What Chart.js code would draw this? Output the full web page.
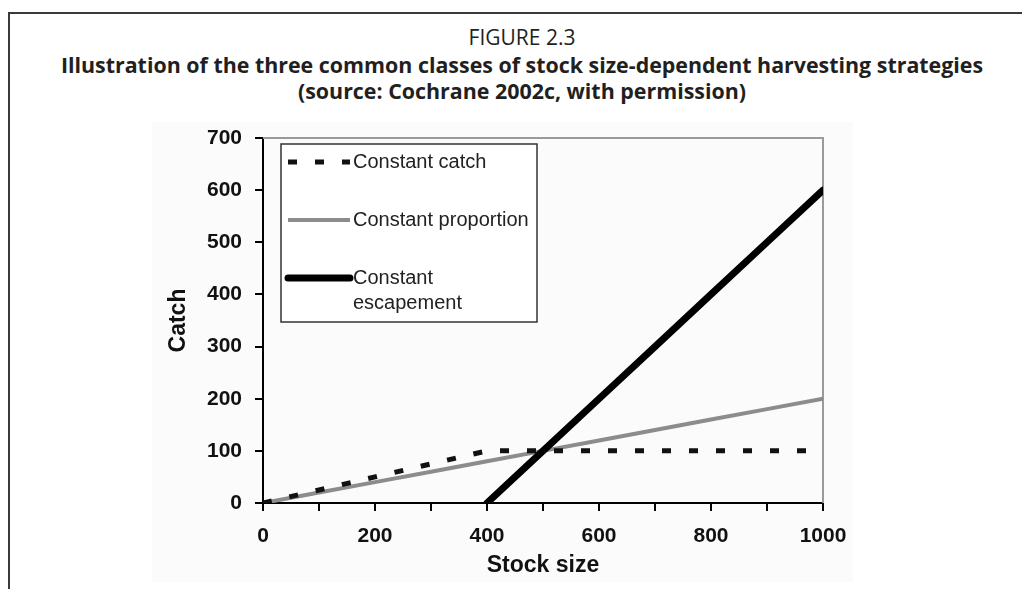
<!DOCTYPE html>
<html>
<head>
<meta charset="utf-8">
<script src="https://cdn.jsdelivr.net/npm/chart.js@4.4.1/dist/chart.umd.min.js"></script>
<style>
  html, body { margin: 0; padding: 0; width: 1022px; height: 589px; overflow: hidden; background: #fff; }
  #frame { position: absolute; left: 8px; top: 12px; width: 1100px; height: 700px;
           border-left: 2px solid #3a3a3a; border-top: 2px solid #3a3a3a; }
  #caption { position: absolute; left: 9px; top: 22px; width: 1026px; text-align: center;
             font-family: "Open Sans", sans-serif; color: #231f20; }
  #caption .fig { font-size: 21px; line-height: 30px; }
  #caption .ttl { font-size: 21.4px; font-weight: bold; line-height: 26px; }
  #paste { position: absolute; left: 152px; top: 122px; width: 701px; height: 460px; background: #fbfbfb; }
  #chart { position: absolute; left: 0; top: 0; }
</style>
</head>
<body>
<div id="frame"></div>
<div id="paste"></div>
<div id="caption">
  <div class="fig">FIGURE 2.3</div>
  <div class="ttl">Illustration of the three common classes of stock size-dependent harvesting strategies<br>(source: Cochrane 2002c, with permission)</div>
</div>
<canvas id="chart" width="1022" height="589"></canvas>
<script>
// values
const stockSize = [0, 100, 200, 300, 400, 500, 600, 700, 800, 900, 1000];
const constantCatch = [0, 25, 50, 75, 100, 100, 100, 100, 100, 100, 100];
const constantProportion = [0, 20, 40, 60, 80, 100, 120, 140, 160, 180, 200];
const constantEscapement = [null, null, null, null, 0, 100, 200, 300, 400, 500, 600];
const seriesNames = ["Constant catch", "Constant proportion", "Constant\nescapement"];
const xTicks = [0, 100, 200, 300, 400, 500, 600, 700, 800, 900, 1000];
const xTickLabels = [0, 200, 400, 600, 800, 1000];
const yTicks = [0, 100, 200, 300, 400, 500, 600, 700];

const toPoints = arr => stockSize.map((x, i) => ({ x: x, y: arr[i] }));
const tickFont = { family: "'Liberation Sans', Arial, sans-serif", weight: "bold", size: 21 };
const titleFont = { family: "'Liberation Sans', Arial, sans-serif", weight: "bold", size: 23 };

// gray top/right edges of the plot area
const plotFrame = {
  id: "plotFrame",
  beforeDatasetsDraw(chart) {
    const { ctx, chartArea: a } = chart;
    ctx.save();
    ctx.strokeStyle = "#9a9a9a";
    ctx.lineWidth = 2;
    ctx.beginPath();
    ctx.moveTo(a.left, a.top);
    ctx.lineTo(a.right, a.top);
    ctx.lineTo(a.right, a.bottom);
    ctx.stroke();
    ctx.restore();
  }
};

// boxed legend inside the plot, top left
const boxLegend = {
  id: "boxLegend",
  afterDatasetsDraw(chart) {
    const { ctx, chartArea: a } = chart;
    const left = a.left + 18, top = a.top + 6;
    ctx.save();
    ctx.fillStyle = "#fff";
    ctx.fillRect(left, top, 256, 178);
    ctx.strokeStyle = "#333";
    ctx.lineWidth = 1.5;
    ctx.strokeRect(left, top, 256, 178);
    ctx.font = "20px 'Liberation Sans', Arial, sans-serif";
    ctx.textBaseline = "middle";
    chart.data.datasets.forEach((ds, i) => {
      const y = top + 18 + i * 58;
      ctx.strokeStyle = ds.borderColor;
      ctx.lineWidth = ds.borderWidth;
      ctx.setLineDash(ds.borderDash || []);
      ctx.lineCap = ds.borderCapStyle || "butt";
      ctx.beginPath();
      ctx.moveTo(left + 7, y);
      ctx.lineTo(left + 69, y);
      ctx.stroke();
      ctx.setLineDash([]);
      ctx.fillStyle = "#222";
      ds.label.split("\n").forEach((line, j) => ctx.fillText(line, left + 72, y + j * 25));
    });
    ctx.restore();
  }
};

new Chart(document.getElementById("chart"), {
  type: "line",
  data: {
    datasets: [{
      label: seriesNames[0],
      data: toPoints(constantCatch),
      borderColor: "#111",
      borderWidth: 5,
      borderDash: [9, 18],
      order: 1
    }, {
      label: seriesNames[1],
      data: toPoints(constantProportion),
      borderColor: "#8c8c8c",
      borderWidth: 4,
      order: 3
    }, {
      label: seriesNames[2],
      data: toPoints(constantEscapement),
      borderColor: "#000",
      borderWidth: 7,
      borderCapStyle: "round",
      order: 2
    }]
  },
  options: {
    responsive: false,
    animation: false,
    elements: { point: { radius: 0 }, line: { tension: 0 } },
    layout: { padding: { left: 150, top: 138, right: 199, bottom: 6 } },
    plugins: { legend: { display: false }, tooltip: { enabled: false } },
    scales: {
      x: {
        type: "linear",
        min: 0,
        max: 1000,
        afterBuildTicks: s => { s.ticks = xTicks.map(v => ({ value: v })); },
        afterFit: s => { s.height = 80; },
        ticks: {
          font: tickFont, color: "#111", padding: 13, maxRotation: 0, autoSkip: false,
          callback: v => xTickLabels.includes(v) ? String(v) : ""
        },
        grid: { drawOnChartArea: false, color: "#000", lineWidth: 2, tickLength: 8 },
        border: { color: "#000", width: 2 },
        title: { display: true, text: "Stock size", font: titleFont, color: "#111", padding: { top: 2, bottom: 4 } }
      },
      y: {
        min: 0,
        max: 700,
        afterBuildTicks: s => { s.ticks = yTicks.map(v => ({ value: v })); },
        afterFit: s => { s.width = 113; },
        ticks: { font: tickFont, color: "#111", padding: 13, autoSkip: false },
        grid: { drawOnChartArea: false, color: "#000", lineWidth: 2, tickLength: 8 },
        border: { color: "#000", width: 2 },
        title: { display: true, text: "Catch", font: titleFont, color: "#111", padding: { top: 15, bottom: 4 } }
      }
    }
  },
  plugins: [plotFrame, boxLegend]
});
</script>
</body>
</html>
